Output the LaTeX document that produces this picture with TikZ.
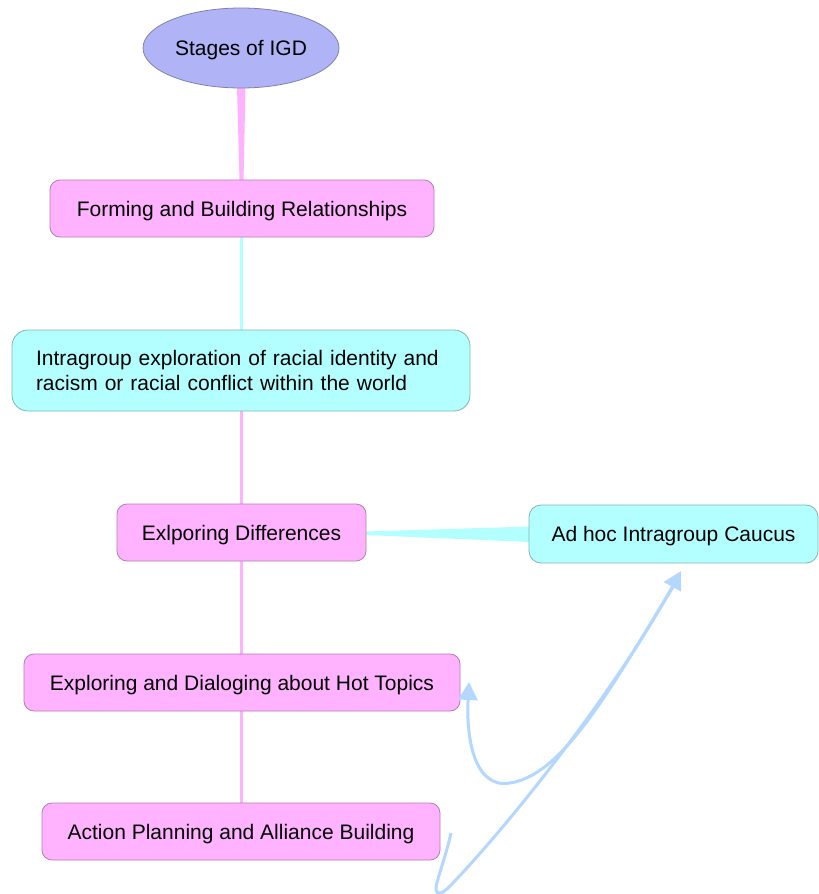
\documentclass[tikz,border=0pt]{standalone}
\usepackage{fontspec}
\setmainfont{Liberation Sans}
\usetikzlibrary{shapes.geometric,arrows.meta}
\definecolor{pinkfill}{HTML}{FFB3FF}
\definecolor{pinkline}{HTML}{B07FB0}
\definecolor{cyanfill}{HTML}{B3FFFF}
\definecolor{cyanline}{HTML}{80B5B5}
\definecolor{ellfill}{HTML}{B0B3F6}
\definecolor{ellline}{HTML}{8083A8}
\definecolor{bluearrow}{HTML}{B3D7FF}
\tikzset{
  every node/.style={font=\fontsize{21}{25}\selectfont, text=black},
  oneline/.style={text height=15pt, text depth=0pt},
  pinkbox/.style={oneline, draw=pinkline, fill=pinkfill, rounded corners=10pt, inner sep=0pt, line width=0.8pt, minimum height=57pt},
  cyanbox/.style={draw=cyanline, fill=cyanfill, rounded corners=12pt, inner sep=0pt, line width=0.8pt, minimum height=57pt},
  ellnode/.style={oneline, ellipse, draw=ellline, fill=ellfill, line width=0.8pt, inner sep=0pt, minimum width=196pt, minimum height=80pt},
  pinklink/.style={draw=pinkfill, line width=3pt},
  cyanlink/.style={draw=cyanfill, line width=3pt},
  bluelink/.style={draw=bluearrow, line width=3pt, -{Triangle[length=18pt,width=19pt]}}
}
\begin{document}
\begin{tikzpicture}[x=1pt,y=-1pt]
\useasboundingbox (0,0) rectangle (819,894);
% connectors first
\coordinate (e1) at (237,86);
\coordinate (e2) at (245.5,86);
\coordinate (f1) at (243.5,181);
\coordinate (f2) at (239.5,181);
\fill[pinkfill] (e1) -- (e2) -- (f1) -- (f2) -- cycle;
\draw[cyanlink] (241,237) -- (241,331);
\draw[pinklink] (241,411) -- (241,505);
\draw[pinklink] (241,561) -- (241,655);
\draw[pinklink] (241,711) -- (241,804);
\coordinate (d1) at (366,531.5);
\coordinate (d2) at (530,526.5);
\coordinate (d3) at (530,542);
\coordinate (d4) at (366,535);
\fill[cyanfill] (d1) -- (d2) -- (d3) -- (d4) -- cycle;
% nodes
\node[ellnode] (root) at (241,48) {Stages of IGD};
\node[pinkbox, minimum width=384pt] (forming) at (242,208.5) {Forming and Building Relationships};
\node[cyanbox, rounded corners=16pt, minimum width=458pt, minimum height=81pt, text width=410pt, inner xsep=24pt, align=left] (intra) at (241,370.5) {Intragroup exploration of racial identity and\\racism or racial conflict within the world};
\node[pinkbox, minimum width=249pt] (diff) at (241.5,532.5) {Exlporing Differences};
\node[cyanbox, oneline, minimum width=289pt, minimum height=58pt] (adhoc) at (673.5,534) {Ad hoc Intragroup Caucus};
\node[pinkbox, minimum width=436pt] (hot) at (242,682.5) {Exploring and Dialoging about Hot Topics};
\node[pinkbox, minimum width=398pt] (action) at (241,831.5) {Action Planning and Alliance Building};
% blue arrows
\coordinate (s1) at (451,833);
\coordinate (b1) at (436,890);
\coordinate (u1) at (449,887);
\coordinate (t1) at (681,571);
\draw[bluelink] (s1) .. controls (445,860) and (435,884) .. (b1) .. controls (437,896) and (443,893) .. (u1) .. controls (500,835) and (610,700) .. (t1);
\coordinate (s2) at (673,587);
\coordinate (b2) at (510,783);
\coordinate (t2) at (469,682);
\draw[bluelink] (s2) .. controls (615,680) and (565,775) .. (b2) .. controls (475,789) and (466,740) .. (t2);
\end{tikzpicture}
\end{document}
